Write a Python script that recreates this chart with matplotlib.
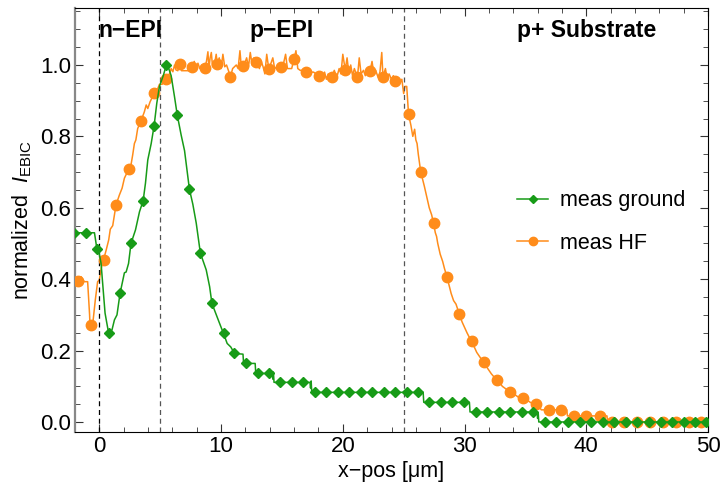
import matplotlib
matplotlib.use("Agg")
import matplotlib.pyplot as plt
from matplotlib.lines import Line2D
from matplotlib.ticker import MultipleLocator

plt.rcParams['font.family'] = ['Liberation Sans', 'DejaVu Sans']
plt.rcParams['mathtext.fontset'] = 'custom'
plt.rcParams['mathtext.rm'] = 'Liberation Sans'
plt.rcParams['mathtext.it'] = 'Liberation Sans:italic'

# meas ground (green) - line trace
ground_x = [-2.0, -0.4, -0.2, 0.0, 0.14, 0.47, 0.6, 0.77, 1.04, 1.24, 1.45, 1.7, 2.06, 2.2,
            2.4, 2.6, 2.97, 3.3, 3.6, 3.79, 3.98, 4.26, 4.5, 4.72, 4.94, 5.27, 5.5, 5.7,
            5.9, 6.18, 6.4, 6.72, 7.0, 7.4, 7.68, 7.96, 8.3, 8.78, 9.06, 9.25, 9.88, 10.2,
            10.5, 10.8, 11.1, 11.8, 11.85, 12.8, 12.85, 14.2, 14.25, 14.3, 14.35, 17.3,
            17.35, 17.4, 17.45, 26.6, 26.65, 30.4, 30.45, 35.95, 36.0, 36.05, 36.1, 50.0]
ground_y = [0.53, 0.53, 0.485, 0.47, 0.445, 0.305, 0.28, 0.248, 0.258, 0.286, 0.30, 0.36,
            0.418, 0.42, 0.444, 0.50, 0.538, 0.589, 0.62, 0.669, 0.734, 0.78, 0.83, 0.893,
            0.94, 0.972, 1.0, 0.99, 0.97, 0.91, 0.86, 0.804, 0.76, 0.652, 0.61, 0.557,
            0.473, 0.426, 0.379, 0.332, 0.276, 0.248, 0.22, 0.21, 0.192, 0.19, 0.164,
            0.164, 0.136, 0.136, 0.12, 0.14, 0.111, 0.111, 0.095, 0.115, 0.083, 0.083,
            0.055, 0.055, 0.028, 0.028, 0.01, 0.025, 0.0, 0.0]

# meas ground (green) - marker points
ground_mx = [-2.05, -1.1, -0.2, 0.77, 1.7, 2.6, 3.6, 4.5, 5.5, 6.4, 7.4, 8.3, 9.25, 10.2,
             11.1, 12.05, 13.0, 13.9, 14.85, 15.8, 16.75, 17.7, 18.65, 19.6, 20.5, 21.5,
             22.4, 23.35, 24.3, 25.25, 26.2, 27.1, 28.1, 29.0, 29.95, 30.9, 31.85, 32.8,
             33.7, 34.7, 35.6, 36.6, 37.5, 38.5, 39.45, 40.4, 41.35, 42.3, 43.25, 44.2,
             45.15, 46.1, 47.0, 48.0, 48.9, 49.85]
ground_my = [0.53, 0.53, 0.485, 0.25, 0.36, 0.50, 0.62, 0.83, 1.0, 0.86, 0.652, 0.473,
             0.332, 0.248, 0.192, 0.164, 0.136, 0.136, 0.111, 0.111, 0.111, 0.083, 0.083,
             0.083, 0.083, 0.083, 0.083, 0.083, 0.083, 0.083, 0.083, 0.055, 0.055, 0.055,
             0.055, 0.028, 0.028, 0.028, 0.028, 0.028, 0.028, 0.0, 0.0, 0.0, 0.0, 0.0,
             0.0, 0.0, 0.0, 0.0, 0.0, 0.0, 0.0, 0.0, 0.0, 0.0]

# meas HF (orange) - line trace
hf_x = [-2.0, -1.5, -1.24, -0.96, -0.8, -0.77, -0.55, -0.33, -0.14, 0.0, 0.15, 0.33, 0.55,
        0.77, 0.9, 1.1, 1.37, 1.65, 1.87, 2.06, 2.41, 2.6, 2.74, 2.88, 3.0, 3.15, 3.43,
        3.7, 3.85, 3.98, 4.17, 4.53, 4.8, 4.94, 5.16, 5.49, 5.77, 5.9, 6.04, 6.18, 6.3,
        6.45, 6.59, 6.75, 7.0, 7.3, 7.5, 7.63, 7.8, 7.9, 8.1, 8.25, 8.4, 8.65, 8.8, 8.92,
        9.0, 9.1, 9.2, 9.3, 9.45, 9.6, 9.69, 9.85, 10.0, 10.15, 10.3, 10.45, 10.6, 10.77,
        10.95, 11.1, 11.25, 11.4, 11.55, 11.65, 11.8, 11.95, 12.1, 12.25, 12.4, 12.55,
        12.7, 12.85, 13.0, 13.15, 13.3, 13.45, 13.6, 13.75, 13.92, 14.1, 14.25, 14.4,
        14.6, 14.8, 14.96, 15.1, 15.3, 15.45, 15.6, 15.8, 16.0, 16.15, 16.3, 16.5, 16.8,
        17.0, 17.2, 17.4, 17.6, 17.8, 18.06, 18.2, 18.35, 18.5, 18.65, 18.8, 19.1, 19.3,
        19.5, 19.7, 19.85, 20.0, 20.2, 20.35, 20.5, 20.65, 20.8, 20.95, 21.2, 21.35,
        21.5, 21.7, 21.85, 22.0, 22.24, 22.4, 22.55, 22.7, 22.9, 23.05, 23.2, 23.3, 23.5,
        23.65, 23.8, 24.0, 24.15, 24.35, 24.5, 24.7, 24.85, 25.0, 25.1, 25.25, 25.4,
        25.6, 25.75, 25.9, 26.0, 26.1, 26.2, 26.4, 26.7, 26.9, 27.1, 27.3, 27.45, 27.6,
        27.7, 27.8, 28.0, 28.2, 28.35, 28.55, 28.75, 28.9, 29.1, 29.3, 29.57, 29.8, 30.0,
        30.2, 30.35, 30.6, 30.8, 31.0, 31.2, 31.4, 31.6, 31.8, 32.0, 32.2, 32.45, 32.7,
        32.9, 33.1, 33.3, 33.5, 33.77, 34.0, 34.2, 34.4, 34.6, 34.8, 35.0, 35.2, 35.4,
        35.6, 35.83, 36.1, 36.3, 38.4, 38.45, 41.7, 41.75, 50.0]
hf_y = [0.398, 0.407, 0.393, 0.393, 0.30, 0.272, 0.272, 0.342, 0.393, 0.398, 0.43, 0.452,
        0.48, 0.51, 0.54, 0.55, 0.608, 0.636, 0.655, 0.683, 0.708, 0.72, 0.748, 0.78,
        0.79, 0.822, 0.844, 0.869, 0.888, 0.878, 0.897, 0.922, 0.934, 0.946, 0.946, 0.96,
        0.976, 0.99, 0.981, 1.0, 0.986, 0.984, 1.003, 0.984, 0.984, 0.984, 0.984, 0.997,
        1.01, 0.985, 1.005, 0.99, 1.0, 0.992, 1.01, 1.037, 0.99, 1.02, 1.035, 0.995, 1.0,
        1.03, 1.003, 1.02, 0.99, 1.03, 0.995, 1.0, 0.985, 0.967, 0.99, 0.995, 1.0, 0.99,
        1.04, 1.0, 0.997, 1.005, 1.02, 0.995, 1.035, 1.0, 1.02, 1.009, 1.0, 0.99, 1.01,
        0.995, 0.975, 1.03, 0.989, 1.005, 1.02, 0.99, 0.995, 1.0, 0.994, 1.0, 1.03, 0.99,
        0.99, 0.99, 1.017, 1.04, 0.99, 0.985, 0.985, 0.981, 0.975, 0.98, 0.98, 0.975,
        0.969, 0.975, 0.965, 0.98, 0.96, 0.975, 0.965, 0.985, 0.965, 0.99, 0.975, 1.03,
        0.986, 1.02, 0.975, 1.0, 0.97, 0.99, 0.965, 1.02, 0.975, 0.985, 0.97, 0.99, 0.983,
        1.01, 0.975, 0.985, 0.965, 0.98, 1.035, 0.965, 0.99, 0.96, 0.975, 0.96, 0.97,
        0.955, 0.96, 0.95, 0.96, 0.92, 0.94, 0.94, 0.862, 0.83, 0.80, 0.82, 0.79, 0.78,
        0.75, 0.701, 0.66, 0.63, 0.60, 0.58, 0.557, 0.53, 0.52, 0.50, 0.47, 0.45, 0.43,
        0.407, 0.38, 0.36, 0.34, 0.33, 0.302, 0.28, 0.265, 0.25, 0.24, 0.227, 0.21, 0.195,
        0.185, 0.175, 0.167, 0.155, 0.145, 0.135, 0.125, 0.118, 0.11, 0.10, 0.095, 0.09,
        0.085, 0.08, 0.075, 0.07, 0.068, 0.066, 0.062, 0.06, 0.055, 0.052, 0.05, 0.045,
        0.034, 0.034, 0.017, 0.017, 0.0, 0.0]

# meas HF (orange) - marker points
hf_mx = [-1.73, -0.69, 0.36, 1.37, 2.41, 3.43, 4.53, 5.49, 6.59, 7.63, 8.65, 9.69, 10.77,
         11.8, 12.85, 13.92, 14.96, 16.0, 17.0, 18.06, 19.1, 20.2, 21.2, 22.24, 23.3,
         24.3, 25.4, 26.4, 27.45, 28.55, 29.57, 30.6, 31.6, 32.7, 33.77, 34.8, 35.83,
         36.9, 37.95, 39.0, 40.0, 41.1, 42.1, 43.1, 44.2, 45.25, 46.3, 47.4, 48.4, 49.4]
hf_my = [0.396, 0.272, 0.454, 0.608, 0.709, 0.843, 0.922, 0.96, 1.003, 0.995, 0.992, 1.003,
         0.967, 0.997, 1.009, 0.989, 0.994, 1.017, 0.981, 0.969, 0.965, 0.986, 0.965,
         0.983, 0.965, 0.955, 0.862, 0.701, 0.557, 0.407, 0.302, 0.227, 0.167, 0.118,
         0.085, 0.066, 0.05, 0.034, 0.034, 0.017, 0.017, 0.017, 0.0, 0.0, 0.0, 0.0, 0.0,
         0.0, 0.0, 0.0]

region_edges = [0, 5, 25]
region_labels = ["n\u2212EPI", "p\u2212EPI", "p+ Substrate"]
region_label_x = [2.6, 15, 40]

green = "#179b17"
orange = "#ff8c1a"

fig = plt.figure(figsize=(7.21, 4.92), dpi=100)
ax = fig.add_axes([0.104, 0.122, 0.878, 0.862])

ax.plot(hf_x, hf_y, color=orange, lw=1.1, zorder=2)
ax.plot(hf_mx, hf_my, ls='none', marker='o', ms=7.5, color=orange, zorder=3)
ax.plot(ground_x, ground_y, color=green, lw=1.1, zorder=4)
ax.plot(ground_mx, ground_my, ls='none', marker='D', ms=5, color=green, zorder=5)

ax.axvline(region_edges[0], color='black', ls=(0, (4, 3)), lw=0.9)
for xe in region_edges[1:]:
    ax.axvline(xe, color='#555555', ls=(0, (4, 3)), lw=0.9)

for lab, xl in zip(region_labels, region_label_x):
    ax.text(xl, 1.098, lab, ha='center', va='center', fontsize=16.5, fontweight='bold')

ax.set_xlim(-2, 50)
ax.set_ylim(-0.028, 1.16)
ax.xaxis.set_major_locator(MultipleLocator(10))
ax.xaxis.set_minor_locator(MultipleLocator(2))
ax.yaxis.set_major_locator(MultipleLocator(0.2))
ax.yaxis.set_minor_locator(MultipleLocator(0.05))
ax.yaxis.set_major_formatter(matplotlib.ticker.FormatStrFormatter('%.1f'))
ax.tick_params(which='both', direction='in', top=True, right=True, labelsize=16,
               color='#333333', pad=3)
ax.tick_params(which='major', length=6)
ax.tick_params(which='minor', length=3.5)
ax.spines['left'].set_color('#888888')
ax.spines['left'].set_linewidth(1.6)

ax.set_xlabel("x\u2212pos [\u03bcm]", fontsize=15.5, labelpad=3)
ax.set_ylabel(r"normalized  $\mathit{I}_{\mathrm{EBIC}}$", fontsize=15.5, labelpad=4)

handles = [Line2D([], [], color=green, marker='D', ms=4, lw=1.1),
           Line2D([], [], color=orange, marker='o', ms=6, lw=1.1)]
ax.legend(handles, ["meas ground", "meas HF"], loc='center left',
          bbox_to_anchor=(0.668, 0.495), frameon=False, fontsize=15.5,
          handlelength=1.45, handletextpad=0.55, labelspacing=1.0)

fig.savefig("out.png", dpi=100)
